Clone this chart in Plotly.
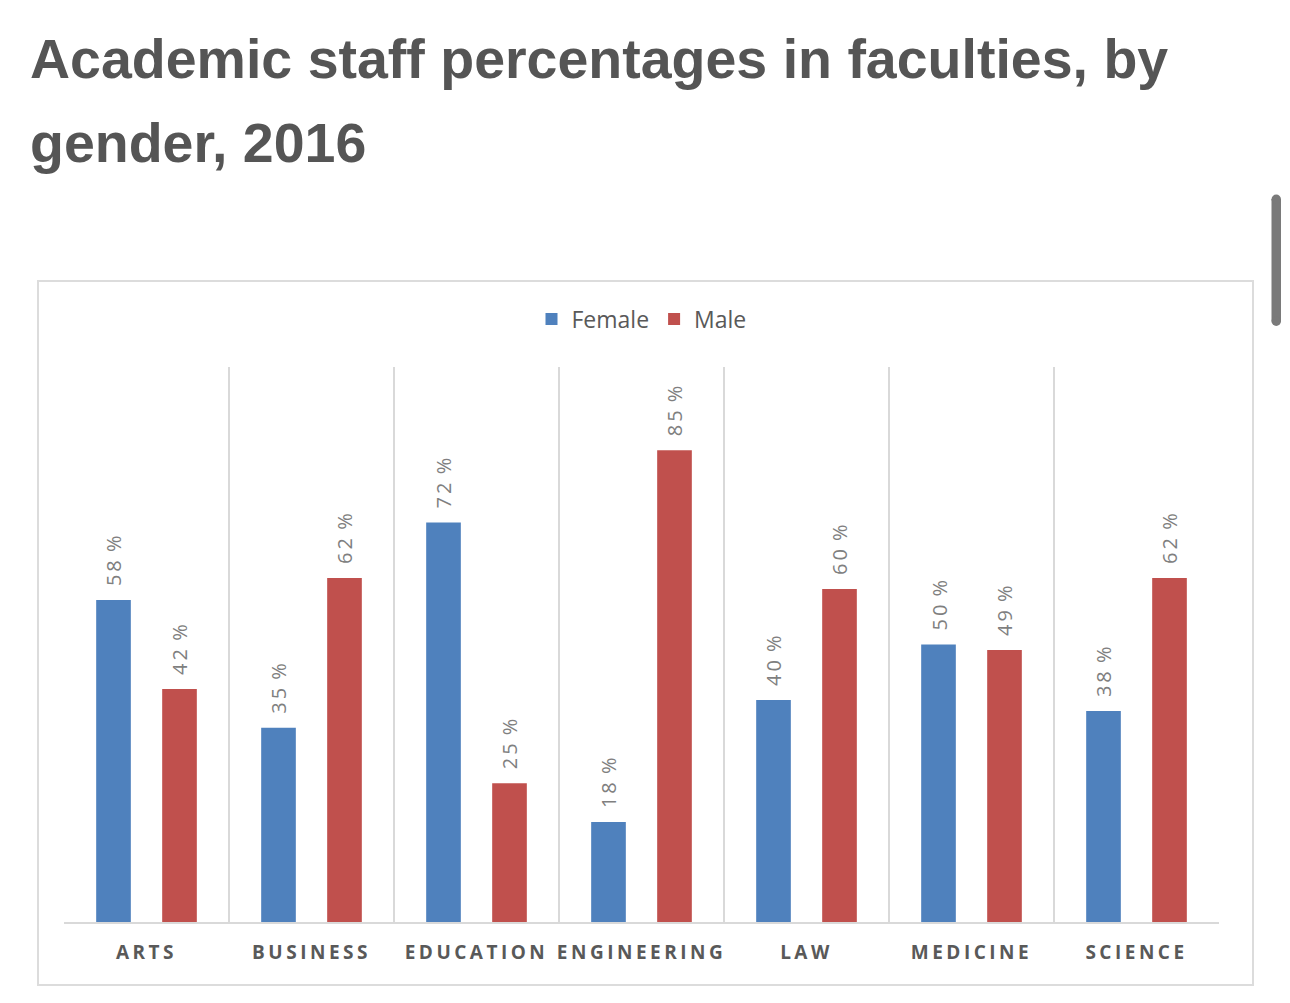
import plotly.graph_objects as go

categories = ["ARTS", "BUSINESS", "EDUCATION", "ENGINEERING", "LAW", "MEDICINE", "SCIENCE"]
female = [58, 35, 72, 18, 40, 50, 38]
male = [42, 62, 25, 85, 60, 49, 62]
series_names = ["Female", "Male"]
colors = ["#4f81bd", "#c0504d"]

W, H = 1290, 1003
L, R, T, B = 64, 1219, 367, 922  # plot area pixels
off = 0.2
bw = 0.21

def px_x(p):
    return (p - L) / (R - L)

def px_y(p):
    return (B - p) / (B - T)

idx = list(range(len(categories)))
fig = go.Figure()
for name, vals, col, sgn in [(series_names[0], female, colors[0], -1), (series_names[1], male, colors[1], 1)]:
    fig.add_trace(go.Bar(
        x=[i + sgn * off for i in idx], y=vals, width=bw, name=name,
        marker=dict(color=col, line=dict(width=0)),
    ))
    for i, v in zip(idx, vals):
        fig.add_annotation(
            x=i + sgn * off, y=v, xref="x", yref="y",
            text=f'<span style="letter-spacing:3px">{v}</span> %',
            textangle=-90, showarrow=False, yanchor="bottom", yshift=12,
            font=dict(family="Open Sans", size=20, color="#7f7f7f"),
        )

ticktext = [f'<span style="letter-spacing:3.5px"><b>{c}</b></span>' for c in categories]

fig.update_layout(
    width=W, height=H,
    margin=dict(l=L, r=W - R, t=T, b=H - B, pad=0),
    paper_bgcolor="white", plot_bgcolor="white",
    barmode="overlay",
    showlegend=True,
    legend=dict(orientation="h", x=0.5, xanchor="center", y=px_y(319), yanchor="middle",
                font=dict(family="Open Sans", size=23, color="#595959"),
                itemwidth=30, traceorder="normal"),
    xaxis=dict(range=[-0.5, 6.5], tickmode="array", tickvals=idx, ticktext=ticktext,
               showgrid=False, zeroline=False, showline=True, linecolor="#d9d9d9", linewidth=1.5,
               ticks="", ticklabelstandoff=12,
               tickfont=dict(family="Open Sans", size=19, color="#595959"),
               minor=dict(tickmode="linear", tick0=-0.5, dtick=1, showgrid=True,
                          gridcolor="#d9d9d9", gridwidth=1.5, ticks="")),
    yaxis=dict(range=[0, 100], showgrid=False, zeroline=False, showticklabels=False, showline=False),
)

# Title lines
fig.add_annotation(xref="paper", yref="paper", x=px_x(28), y=px_y(59), xanchor="left", yanchor="middle",
                   text="<b>Academic staff percentages in faculties, by</b>", showarrow=False,
                   font=dict(family="Liberation Sans", size=55.5, color="#555555"))
fig.add_annotation(xref="paper", yref="paper", x=px_x(28), y=px_y(143), xanchor="left", yanchor="middle",
                   text="<b>gender, 2016</b>", showarrow=False,
                   font=dict(family="Liberation Sans", size=55.5, color="#555555"))

# Chart frame
fig.add_shape(type="rect", xref="paper", yref="paper", x0=px_x(38), x1=px_x(1253), y0=px_y(985), y1=px_y(281),
              line=dict(color="#dcdcdc", width=2), fillcolor="rgba(0,0,0,0)", layer="below")
# Scrollbar
sb_col = "#7a7a7a"
fig.add_shape(type="rect", xref="paper", yref="paper", x0=px_x(1271.5), x1=px_x(1281), y0=px_y(321), y1=px_y(199),
              line=dict(width=0), fillcolor=sb_col)
fig.add_shape(type="circle", xref="paper", yref="paper", x0=px_x(1271.5), x1=px_x(1281), y0=px_y(204), y1=px_y(194.5),
              line=dict(width=0), fillcolor=sb_col)
fig.add_shape(type="circle", xref="paper", yref="paper", x0=px_x(1271.5), x1=px_x(1281), y0=px_y(326), y1=px_y(316.5),
              line=dict(width=0), fillcolor=sb_col)

fig.write_html("out.html")
